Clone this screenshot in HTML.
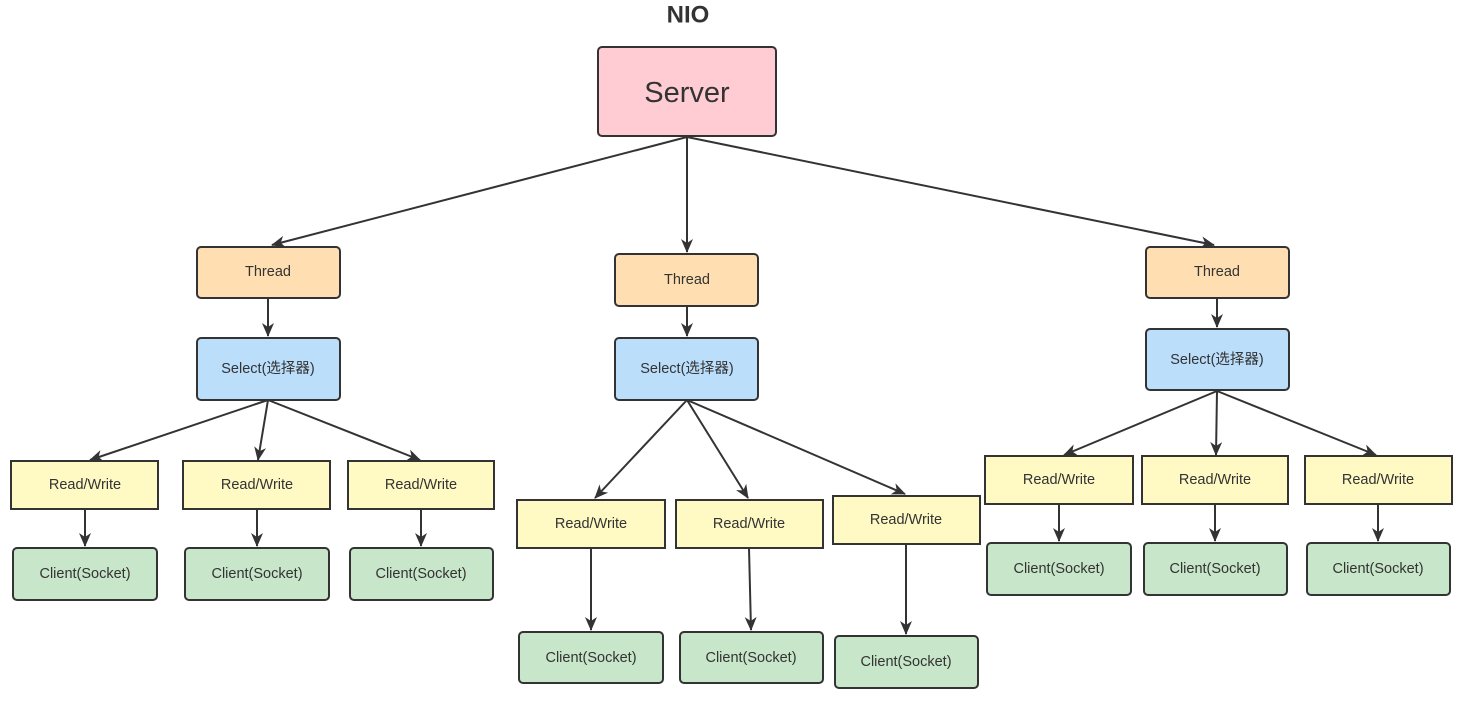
<!DOCTYPE html>
<html><head><meta charset="utf-8"><style>
body{margin:0;background:#fff;}
svg{display:block;font-family:"Liberation Sans","Noto Sans CJK SC",sans-serif;}
text{fill:#333;text-anchor:middle;dominant-baseline:central;}
</style></head><body>
<svg width="1466" height="704" viewBox="0 0 1466 704">
<defs><marker id="a" markerWidth="14" markerHeight="12" refX="13" refY="6" orient="auto" markerUnits="userSpaceOnUse"><path d="M0,0 L14,6 L0,12 L4,6 z" fill="#333"/></marker></defs>
<g stroke="#333" stroke-width="2" fill="none" marker-end="url(#a)">
<line x1="687" y1="137" x2="272" y2="245"/>
<line x1="687" y1="137" x2="687" y2="252"/>
<line x1="687" y1="137" x2="1214" y2="245"/>
<line x1="268" y1="298" x2="268" y2="336"/>
<line x1="687" y1="306" x2="687" y2="336"/>
<line x1="1217" y1="298" x2="1217" y2="327"/>
<line x1="268" y1="400" x2="90" y2="460"/>
<line x1="268" y1="400" x2="258" y2="460"/>
<line x1="268" y1="400" x2="420" y2="460"/>
<line x1="687" y1="400" x2="595" y2="498"/>
<line x1="687" y1="400" x2="748" y2="498"/>
<line x1="687" y1="400" x2="905" y2="494"/>
<line x1="1217" y1="391" x2="1064" y2="455"/>
<line x1="1217" y1="391" x2="1216" y2="455"/>
<line x1="1217" y1="391" x2="1376" y2="455"/>
<line x1="85" y1="509" x2="85" y2="546"/>
<line x1="257" y1="509" x2="257" y2="546"/>
<line x1="421" y1="509" x2="421" y2="546"/>
<line x1="591" y1="548" x2="591" y2="630"/>
<line x1="749" y1="548" x2="751" y2="630"/>
<line x1="906" y1="544" x2="906" y2="634"/>
<line x1="1059" y1="504" x2="1059" y2="541"/>
<line x1="1215" y1="504" x2="1215" y2="541"/>
<line x1="1378" y1="504" x2="1378" y2="541"/>
</g>
<text x="688" y="15" style="font-size:24px;font-weight:bold">NIO</text>
<g stroke="#333" stroke-width="2">
<rect x="598" y="47" width="178" height="89" rx="4" fill="#ffccd3"/>
<rect x="197" y="247" width="143" height="51" rx="4" fill="#ffdfb1"/>
<rect x="615" y="254" width="143" height="52" rx="4" fill="#ffdfb1"/>
<rect x="1146" y="247" width="143" height="51" rx="4" fill="#ffdfb1"/>
<rect x="197" y="338" width="143" height="62" rx="4" fill="#bbdefb"/>
<rect x="615" y="338" width="143" height="62" rx="4" fill="#bbdefb"/>
<rect x="1146" y="329" width="143" height="61" rx="4" fill="#bbdefb"/>
<g fill="#fff9c4">
<rect x="11" y="461" width="147" height="48"/>
<rect x="183" y="461" width="147" height="48"/>
<rect x="348" y="461" width="146" height="48"/>
<rect x="517" y="500" width="148" height="48"/>
<rect x="676" y="500" width="147" height="48"/>
<rect x="833" y="496" width="147" height="48"/>
<rect x="985" y="456" width="148" height="48"/>
<rect x="1142" y="456" width="146" height="48"/>
<rect x="1305" y="456" width="147" height="48"/>
</g>
<g fill="#c8e6c9">
<rect x="13" y="548" width="144" height="52" rx="4"/>
<rect x="185" y="548" width="144" height="52" rx="4"/>
<rect x="350" y="548" width="143" height="52" rx="4"/>
<rect x="519" y="632" width="144" height="51" rx="4"/>
<rect x="680" y="632" width="143" height="51" rx="4"/>
<rect x="835" y="636" width="143" height="52" rx="4"/>
<rect x="987" y="543" width="144" height="52" rx="4"/>
<rect x="1144" y="543" width="143" height="52" rx="4"/>
<rect x="1307" y="543" width="143" height="52" rx="4"/>
</g>
</g>
<text x="687" y="93" style="font-size:29px">Server</text>
<g style="font-size:14.5px">
<text x="268" y="272">Thread</text>
<text x="687" y="280">Thread</text>
<text x="1217" y="272">Thread</text>
<text x="268" y="369">Select(选择器)</text>
<text x="687" y="369">Select(选择器)</text>
<text x="1217" y="360">Select(选择器)</text>
<text x="85" y="485">Read/Write</text>
<text x="257" y="485">Read/Write</text>
<text x="421" y="485">Read/Write</text>
<text x="591" y="524">Read/Write</text>
<text x="749" y="524">Read/Write</text>
<text x="906" y="520">Read/Write</text>
<text x="1059" y="480">Read/Write</text>
<text x="1215" y="480">Read/Write</text>
<text x="1378" y="480">Read/Write</text>
<text x="85" y="574">Client(Socket)</text>
<text x="257" y="574">Client(Socket)</text>
<text x="421" y="574">Client(Socket)</text>
<text x="591" y="658">Client(Socket)</text>
<text x="751" y="658">Client(Socket)</text>
<text x="906" y="662">Client(Socket)</text>
<text x="1059" y="569">Client(Socket)</text>
<text x="1215" y="569">Client(Socket)</text>
<text x="1378" y="569">Client(Socket)</text>
</g>
</svg>
</body></html>
